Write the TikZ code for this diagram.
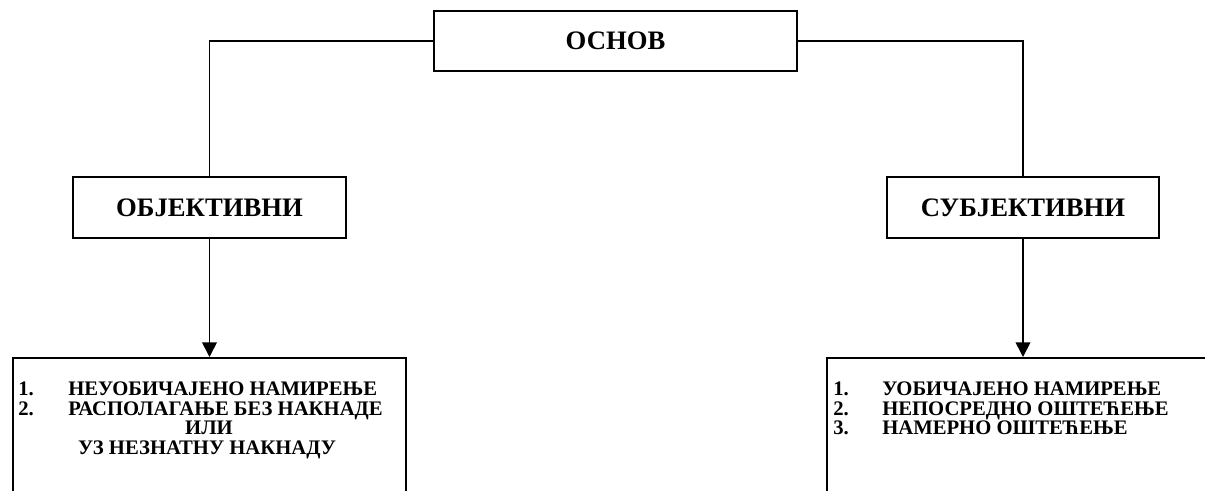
\documentclass[tikz,border=0pt]{standalone}
\usepackage{fontspec}
\setmainfont{Liberation Serif}
\usetikzlibrary{arrows.meta}
\begin{document}
\begin{tikzpicture}[x=0.75pt,y=-0.75pt,
  box/.style={draw, rectangle, line width=1.5pt, inner sep=0pt, font=\bfseries\fontsize{20}{24}\selectfont},
  openbox/.style={draw, rectangle, line width=1.5pt, inner sep=0pt},
  item/.style={inner sep=0pt, font=\bfseries\fontsize{15.5}{18}\selectfont},
  conn/.style={line width=1.3pt},
  arr/.style={conn, -{Triangle[length=11pt,width=11pt]}}]
\useasboundingbox (0,0) rectangle (1205,491);
\clip (0,0) rectangle (1205,491);
\fill[white] (0,0) rectangle (1205,491);

\node[box, minimum width=272.25pt, minimum height=45pt] (osnov) at (615.5,41) {ОСНОВ};
\node[box, minimum width=204.75pt, minimum height=45.75pt] (obj) at (209.5,207.5) {ОБЈЕКТИВНИ};
\node[box, minimum width=204pt, minimum height=45.75pt] (subj) at (1023,207.5) {СУБЈЕКТИВНИ};

\node[openbox, minimum width=294.75pt, minimum height=136.5pt] (lbox) at (209.5,449) {};
\node[openbox, minimum width=309.75pt, minimum height=136.5pt] (rbox) at (1033.5,449) {};

\draw[conn] (osnov.west) -| (obj.north);
\draw[conn] (osnov.east) -| (subj.north);
\draw[arr] (obj.south) -- (lbox.north);
\draw[arr] (subj.south) -- (subj.south |- rbox.north);

% left list
\node[item, anchor=base west] (l1n) at (18,395) {1.};
\node[item, anchor=base west] (l1) at (68,395) {НЕУОБИЧАЈЕНО НАМИРЕЊЕ};
\node[item, anchor=base west] (l2n) at (18,415) {2.};
\node[item, anchor=base west] (l2) at (68,415) {РАСПОЛАГАЊЕ БЕЗ НАКНАДЕ};
\node[item, anchor=base] (l3) at (209,434) {ИЛИ};
\node[item, anchor=base] (l4) at (207,454) {УЗ НЕЗНАТНУ НАКНАДУ};

% right list
\node[item, anchor=base west] (r1n) at (833,395) {1.};
\node[item, anchor=base west] (r1) at (882,395) {УОБИЧАЈЕНО НАМИРЕЊЕ};
\node[item, anchor=base west] (r2n) at (833,415) {2.};
\node[item, anchor=base west] (r2) at (882,415) {НЕПОСРЕДНО ОШТЕЋЕЊЕ};
\node[item, anchor=base west] (r3n) at (833,434) {3.};
\node[item, anchor=base west] (r3) at (882,434) {НАМЕРНО ОШТЕЋЕЊЕ};
\end{tikzpicture}
\end{document}
